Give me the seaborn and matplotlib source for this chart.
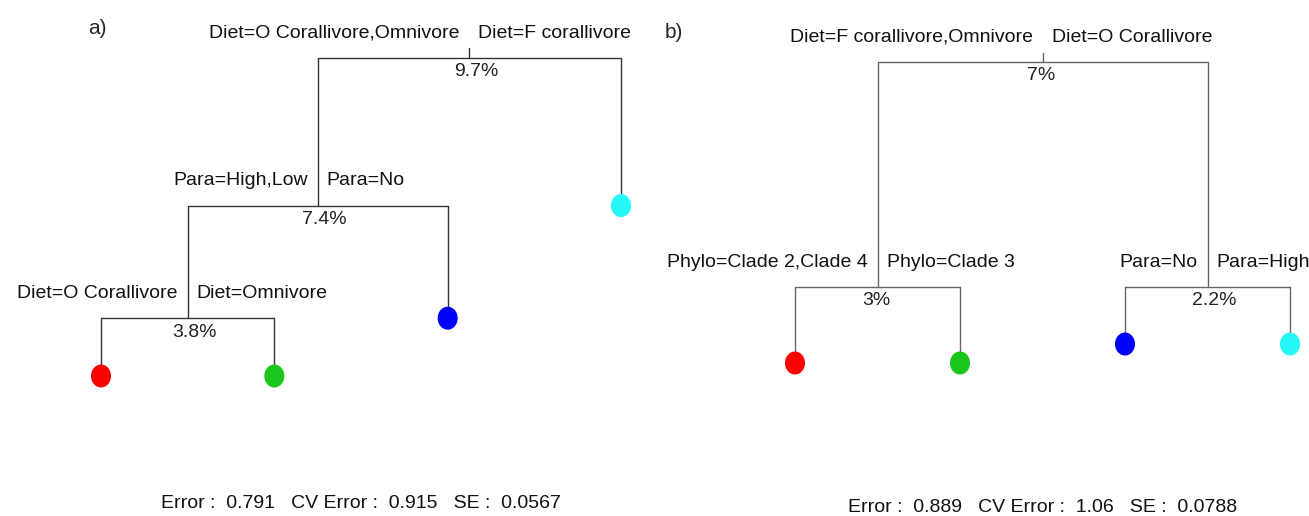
import numpy as np
import pandas as pd
import seaborn as sns
import matplotlib.pyplot as plt
from matplotlib.path import Path
from matplotlib import transforms

# --------------------- tree a) ---------------------
# node table (rpart frame style): name, parent, relative error at node
a_nodes = ["root", "n2", "n4", "red", "green", "blue", "cyan"]
a_parent = [None, "root", "n2", "n4", "n4", "n2", "root"]
a_err = [1.000, 0.903, 0.829, 0.791, 0.791, 0.829, 0.903]
a_leaves = ["red", "green", "blue", "cyan"]  # left to right
a_splits = ["root", "n2", "n4"]
a_left_lab = ["Diet=O Corallivore,Omnivore", "Para=High,Low", "Diet=O Corallivore"]
a_right_lab = ["Diet=F corallivore", "Para=No", "Diet=Omnivore"]
a_pct = ["9.7%", "7.4%", "3.8%"]
a_stats = ["0.791", "0.915", "0.0567"]  # Error, CV Error, SE

# --------------------- tree b) ---------------------
b_nodes = ["root", "n2", "n3", "red", "green", "blue", "cyan"]
b_parent = [None, "root", "root", "n2", "n2", "n3", "n3"]
b_err = [1.000, 0.917, 0.917, 0.889, 0.889, 0.896, 0.896]
b_leaves = ["red", "green", "blue", "cyan"]
b_splits = ["root", "n2", "n3"]
b_left_lab = ["Diet=F corallivore,Omnivore", "Phylo=Clade 2,Clade 4", "Para=No"]
b_right_lab = ["Diet=O Corallivore", "Phylo=Clade 3", "Para=High"]
b_pct = ["7%", "3%", "2.2%"]
b_stats = ["0.889", "1.06", "0.0788"]

leaf_colors = {"red": "#ff0000", "green": "#1cc61c", "blue": "#0000ff", "cyan": "#26f7f7"}

sns.set_style("white")
plt.rcParams["font.family"] = ["Liberation Sans", "DejaVu Sans"]
FS = 14.0

# slightly tall ellipse, like R's pch=16 on a stretched device
ell = Path.unit_circle().transformed(transforms.Affine2D().scale(0.87, 1.0))


def draw_tree(ax, nodes, parent, err, leaves, splits, left_lab, right_lab, pct,
              stats, line_color, foot_y):
    y = dict(zip(nodes, err))
    par = dict(zip(nodes, parent))
    kids = {n: [c for c in nodes if par[c] == n] for n in nodes}
    x = {leaf: i for i, leaf in enumerate(leaves)}
    # internal nodes sit at the mean of their children
    for n in reversed(nodes):
        if n not in x:
            x[n] = np.mean([x[c] for c in kids[n]])

    span = max(err) - min(err)
    rows = []
    seg = 0
    for n in nodes:
        p = par[n]
        if p is None:
            rows += [(seg, x[n], y[n]), (seg, x[n], y[n] + 0.03 * span)]
        else:
            rows += [(seg, x[n], y[p]), (seg, x[n], y[n])]
        seg += 1
        if kids[n]:
            xs = [x[c] for c in kids[n]]
            rows += [(seg, min(xs), y[n]), (seg, max(xs), y[n])]
            seg += 1
    seg_df = pd.DataFrame(rows, columns=["seg", "x", "y"])
    sns.lineplot(data=seg_df, x="x", y="y", units="seg", estimator=None, sort=False,
                 color=line_color, lw=1.0, clip_on=False, zorder=1, ax=ax)

    leaf_df = pd.DataFrame({"x": [x[l] for l in leaves], "y": [y[l] for l in leaves],
                            "group": leaves})
    sns.scatterplot(data=leaf_df, x="x", y="y", hue="group", palette=leaf_colors,
                    marker=ell, s=275, linewidth=0, legend=False, clip_on=False,
                    zorder=3, ax=ax)

    for n, ll, rl, pc in zip(splits, left_lab, right_lab, pct):
        ax.annotate(ll, (x[n], y[n]), xytext=(-7.2, 18), textcoords="offset points",
                    ha="right", va="center", fontsize=FS, color="#111111")
        ax.annotate(rl, (x[n], y[n]), xytext=(6.6, 18), textcoords="offset points",
                    ha="left", va="center", fontsize=FS, color="#111111")
        ax.annotate(pc, (x[n], y[n]), xytext=(-11, -10), textcoords="offset points",
                    ha="left", va="center", fontsize=FS, color="#222222")

    foot = "Error :  {}   CV Error :  {}   SE :  {}".format(*stats)
    tr = transforms.blended_transform_factory(ax.transData, ax.figure.transFigure)
    ax.text((len(leaves) - 1) / 2, foot_y, foot, transform=tr, ha="center",
            va="center", fontsize=FS, color="#111111")

    ax.set_xlim(0, len(leaves) - 1)
    ax.set_ylim(min(err), max(err))
    ax.axis("off")


W, H = 1309, 516
fig = plt.figure(figsize=(W / 100, H / 100), dpi=100)

ax_a = fig.add_axes([101 / W, 1 - 376 / H, 520 / W, 318 / H])
ax_a.patch.set_alpha(0)
draw_tree(ax_a, a_nodes, a_parent, a_err, a_leaves, a_splits, a_left_lab,
          a_right_lab, a_pct, a_stats, "#333333", 1 - 504 / H)

ax_b = fig.add_axes([795 / W, 1 - 363 / H, 495 / W, 301 / H])
ax_b.patch.set_alpha(0)
draw_tree(ax_b, b_nodes, b_parent, b_err, b_leaves, b_splits, b_left_lab,
          b_right_lab, b_pct, b_stats, "#666666", 1 - 508 / H)

fig.text(97 / W, 1 - 28 / H, "a)", ha="center", va="center", fontsize=FS + 1)
fig.text(674 / W, 1 - 32 / H, "b)", ha="center", va="center", fontsize=FS + 1)

plt.savefig("out.png", dpi=100)
